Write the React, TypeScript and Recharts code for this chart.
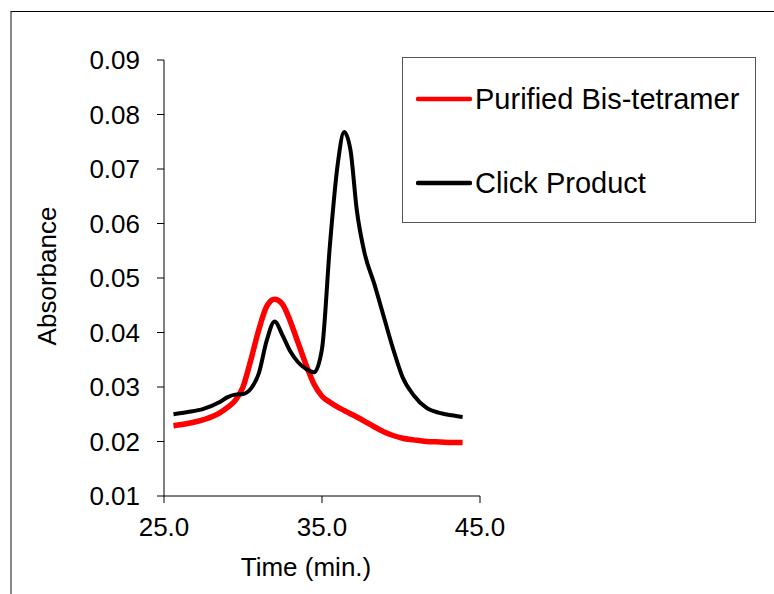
import React from 'react';
import { LineChart, Line, XAxis, YAxis, Legend, Label } from 'recharts';

// retention time (min.)
const times = [
  25.6, 26.5, 27.5, 28.5, 29.0, 29.5, 30.0, 30.5, 31.0, 31.5, 32.0, 32.5, 33.0, 33.5, 34.0, 34.5,
  35.0, 35.5, 36.0, 36.4, 36.8, 37.2, 37.7, 38.3, 38.9, 39.5, 40.1, 40.8, 41.6, 42.5, 43.2, 43.9,
];
const purified = [
  0.0229, 0.0233, 0.024, 0.0252, 0.0262, 0.0275, 0.03, 0.035, 0.0405, 0.0448, 0.0461, 0.0452, 0.042, 0.038, 0.034, 0.0305,
  0.0283, 0.0272, 0.0263, 0.0257, 0.0251, 0.0245, 0.0237, 0.0227, 0.0218, 0.0211, 0.0206, 0.0203, 0.02, 0.0199, 0.0198, 0.0198,
];
const clickProduct = [
  0.025, 0.0254, 0.026, 0.0272, 0.0281, 0.0286, 0.0287, 0.0297, 0.0325, 0.0385, 0.042, 0.0395, 0.0365, 0.0345, 0.0333, 0.0327,
  0.037, 0.056, 0.071, 0.0768, 0.0735, 0.0625, 0.0545, 0.049, 0.043, 0.037, 0.0318, 0.0285, 0.0262, 0.0252, 0.0248, 0.0245,
];
const seriesNames = ['Purified Bis-tetramer', 'Click Product'];
const xTicks = [25, 35, 45];
const yTicks = [0.01, 0.02, 0.03, 0.04, 0.05, 0.06, 0.07, 0.08, 0.09];

const data = times.map((t, i) => ({ time: t, purified: purified[i], click: clickProduct[i] }));

const FONT = '"Liberation Sans", Arial, sans-serif';

function LegendBox({ payload }: any) {
  const items = [...(payload || [])].sort(
    (a: any, b: any) => seriesNames.indexOf(a.value) - seriesNames.indexOf(b.value)
  );
  return (
    <div style={{ width: 352, height: 164, border: '1px solid #555', background: '#fff', position: 'relative' }}>
      {items.map((p: any, i: number) => (
        <div
          key={p.value}
          style={{ position: 'absolute', left: 13, top: 24 + i * 84, display: 'flex', alignItems: 'center', height: 34 }}
        >
          <svg width={56} height={8}>
            <line x1={2} y1={4} x2={54} y2={4} stroke={p.color} strokeWidth={4.5} strokeLinecap="round" />
          </svg>
          <span style={{ fontSize: 29, color: '#000', marginLeft: 3, fontFamily: FONT }}>{p.value}</span>
        </div>
      ))}
    </div>
  );
}

export default function App() {
  return (
    <div style={{ position: 'absolute', left: 0, top: 0, width: 774, height: 594, background: '#fff', fontFamily: FONT }}>
      <div
        style={{
          position: 'absolute',
          left: 10,
          top: 11,
          width: 780,
          height: 600,
          borderTop: '1.5px solid #000',
          borderLeft: '2px solid #888',
        }}
      />
      <div style={{ position: 'absolute', left: 0, top: 0 }}>
        <LineChart width={774} height={594} data={data} margin={{ top: 60, right: 294, bottom: 38, left: 44 }}>
          <XAxis
            dataKey="time"
            type="number"
            domain={[25, 45]}
            ticks={xTicks}
            allowDataOverflow
            tickFormatter={(v: number) => v.toFixed(1)}
            tick={{ fill: '#000', fontSize: 26 }}
            tickSize={7}
            tickMargin={15}
            stroke="#000"
            height={60}
          >
            <Label
              content={({ viewBox }: any) => (
                <text
                  x={(viewBox?.x ?? 164) + (viewBox?.width ?? 316) / 2 - 16}
                  y={(viewBox?.y ?? 496) + (viewBox?.height ?? 60) + 20}
                  textAnchor="middle"
                  fontSize={26}
                  fill="#000"
                >
                  Time (min.)
                </text>
              )}
            />
          </XAxis>
          <YAxis
            type="number"
            domain={[0.01, 0.09]}
            ticks={yTicks}
            allowDataOverflow
            tickFormatter={(v: number) => v.toFixed(2)}
            tick={{ fill: '#000', fontSize: 26 }}
            tickSize={7}
            tickMargin={17}
            stroke="#000"
            width={120}
          >
            <Label
              content={({ viewBox }: any) => {
                const x = (viewBox?.x ?? 44) + 3;
                const y = (viewBox?.y ?? 60) + (viewBox?.height ?? 436) / 2 - 2;
                return (
                  <text
                    x={x}
                    y={y}
                    transform={`rotate(-90, ${x}, ${y})`}
                    textAnchor="middle"
                    dominantBaseline="central"
                    fontSize={26}
                    fill="#000"
                  >
                    Absorbance
                  </text>
                );
              }}
            />
          </YAxis>
          <Legend
            layout="horizontal"
            verticalAlign="middle"
            align="center"
            content={LegendBox}
            wrapperStyle={{ left: 402, top: 57, width: 354, height: 166 }}
          />
          <Line
            type="monotone"
            dataKey="purified"
            name="Purified Bis-tetramer"
            stroke="#ff0000"
            strokeWidth={5.5}
            dot={false}
            isAnimationActive={false}
          />
          <Line
            type="monotone"
            dataKey="click"
            name="Click Product"
            stroke="#000"
            strokeWidth={4}
            dot={false}
            isAnimationActive={false}
          />
        </LineChart>
      </div>
    </div>
  );
}
